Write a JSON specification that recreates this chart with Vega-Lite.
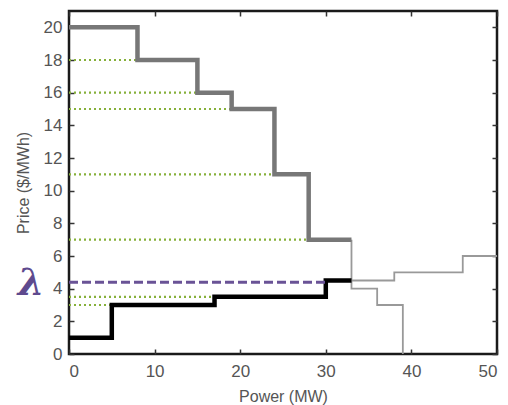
{
  "$schema": "https://vega.github.io/schema/vega-lite/v6.json",
  "width": 428,
  "height": 343,
  "autosize": "none",
  "padding": {"left": 69, "top": 11, "right": 11, "bottom": 51},
  "background": "white",
  "config": {
    "view": {"stroke": "#1a1a1a", "strokeWidth": 2.5},
    "axis": {
      "domain": false,
      "grid": false,
      "tickColor": "#333",
      "tickSize": -5,
      "tickWidth": 1.5,
      "labelFont": "Liberation Sans",
      "labelFontSize": 17,
      "labelColor": "#555",
      "titleFont": "Liberation Sans",
      "titleFontSize": 16,
      "titleFontWeight": "normal",
      "titleColor": "#555"
    }
  },
  "datasets": {
    "curves": [
      {"curve": "demand_main", "power": 0, "price": 20},
      {"curve": "demand_main", "power": 8, "price": 18},
      {"curve": "demand_main", "power": 15, "price": 16},
      {"curve": "demand_main", "power": 19, "price": 15},
      {"curve": "demand_main", "power": 24, "price": 11},
      {"curve": "demand_main", "power": 28, "price": 7},
      {"curve": "demand_main", "power": 33, "price": 7},
      {"curve": "demand_rest", "power": 33, "price": 7},
      {"curve": "demand_rest", "power": 33, "price": 4},
      {"curve": "demand_rest", "power": 36, "price": 3},
      {"curve": "demand_rest", "power": 39, "price": 0},
      {"curve": "supply_main", "power": 0, "price": 1},
      {"curve": "supply_main", "power": 5, "price": 3},
      {"curve": "supply_main", "power": 17, "price": 3.5},
      {"curve": "supply_main", "power": 30, "price": 4.5},
      {"curve": "supply_main", "power": 33, "price": 4.5},
      {"curve": "supply_rest", "power": 33, "price": 4.5},
      {"curve": "supply_rest", "power": 38, "price": 5},
      {"curve": "supply_rest", "power": 46, "price": 6},
      {"curve": "supply_rest", "power": 50, "price": 6}
    ],
    "dotted": [
      {"price": 18, "start": 0, "end": 8},
      {"price": 16, "start": 0, "end": 15},
      {"price": 15, "start": 0, "end": 19},
      {"price": 11, "start": 0, "end": 24},
      {"price": 7, "start": 0, "end": 28},
      {"price": 3.5, "start": 0, "end": 17},
      {"price": 3, "start": 0, "end": 5}
    ],
    "lambda": [{"price": 4.4, "start": 0, "end": 30, "label": "λ"}]
  },
  "resolve": {"axis": {"x": "independent", "y": "independent"}},
  "layer": [
    {
      "data": {"name": "dotted"},
      "mark": {"type": "rule", "color": "#86b03a", "strokeWidth": 2.2, "strokeDash": [2, 3]},
      "encoding": {
        "x": {"field": "start", "type": "quantitative", "scale": {"domain": [0, 50], "nice": false}, "axis": {"orient": "top", "labels": false, "title": null, "values": [0, 10, 20, 30, 40, 50]}},
        "x2": {"field": "end"},
        "y": {"field": "price", "type": "quantitative", "scale": {"domain": [0, 21], "nice": false}, "axis": {"orient": "right", "labels": false, "title": null, "values": [0, 2, 4, 6, 8, 10, 12, 14, 16, 18, 20]}}
      }
    },
    {
      "data": {"name": "curves"},
      "transform": [{"filter": "datum.curve === 'demand_rest' || datum.curve === 'supply_rest'"}],
      "mark": {"type": "line", "interpolate": "step-after", "color": "#999", "strokeWidth": 1.8},
      "encoding": {
        "x": {"field": "power", "type": "quantitative", "axis": {"orient": "bottom", "title": "Power (MW)", "values": [0, 10, 20, 30, 40, 50], "labelPadding": 14, "titlePadding": 9}},
        "y": {"field": "price", "type": "quantitative", "axis": {"orient": "left", "title": "Price ($/MWh)", "values": [0, 2, 4, 6, 8, 10, 12, 14, 16, 18, 20], "labelPadding": 12, "titlePadding": 12}},
        "detail": {"field": "curve"}
      }
    },
    {
      "data": {"name": "curves"},
      "transform": [{"filter": "datum.curve === 'demand_main'"}],
      "mark": {"type": "line", "interpolate": "step-after", "color": "#777", "strokeWidth": 4.5},
      "encoding": {
        "x": {"field": "power", "type": "quantitative", "axis": null},
        "y": {"field": "price", "type": "quantitative", "axis": null}
      }
    },
    {
      "data": {"name": "curves"},
      "transform": [{"filter": "datum.curve === 'supply_main'"}],
      "mark": {"type": "line", "interpolate": "step-after", "color": "#000", "strokeWidth": 4.5},
      "encoding": {
        "x": {"field": "power", "type": "quantitative", "axis": null},
        "y": {"field": "price", "type": "quantitative", "axis": null}
      }
    },
    {
      "data": {"name": "lambda"},
      "mark": {"type": "rule", "color": "#6a5396", "strokeWidth": 3, "strokeDash": [9, 4]},
      "encoding": {
        "x": {"field": "start", "type": "quantitative", "axis": null},
        "x2": {"field": "end"},
        "y": {"field": "price", "type": "quantitative", "axis": null}
      }
    },
    {
      "data": {"name": "lambda"},
      "mark": {"type": "text", "color": "#5e4a8e", "fontSize": 38, "font": "DejaVu Serif", "fontStyle": "italic", "fontWeight": "bold", "align": "center", "baseline": "middle", "dx": -38, "dy": 2},
      "encoding": {
        "x": {"field": "start", "type": "quantitative", "axis": null},
        "y": {"field": "price", "type": "quantitative", "axis": null},
        "text": {"field": "label"}
      }
    }
  ]
}
